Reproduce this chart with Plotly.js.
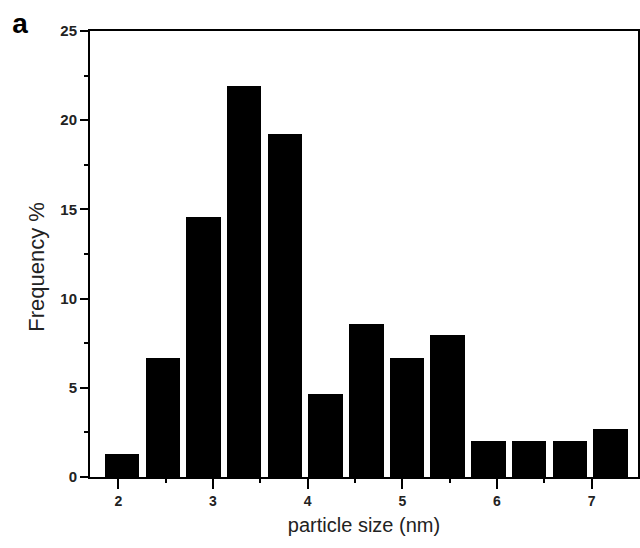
<!DOCTYPE html>
<html>
<head>
<meta charset="utf-8">
<script src="https://cdn.plot.ly/plotly-3.0.1.min.js"></script>
<style>html,body{margin:0;padding:0;background:#fff;}#chart{width:640px;height:548px;}</style>
</head>
<body>
<div id="chart"></div>
<script>
var binCenters = [2.04, 2.47, 2.90, 3.33, 3.76, 4.19, 4.62, 5.05, 5.48, 5.91, 6.34, 6.77, 7.20];
var frequency = [1.3, 6.65, 14.6, 21.9, 19.2, 4.63, 8.6, 6.65, 7.94, 2.03, 2.03, 2.03, 2.67];
var xTickVals = [2, 3, 4, 5, 6, 7];
var yTickVals = [0, 5, 10, 15, 20, 25];

var trace = {
  type: 'bar',
  x: binCenters,
  y: frequency,
  width: 0.365,
  marker: {color: '#000000', line: {width: 0}},
  hoverinfo: 'skip'
};

var FONT = '"Liberation Sans", Arial, sans-serif';

var layout = {
  width: 640, height: 548,
  margin: {l: 90, r: 2, t: 31, b: 71},
  paper_bgcolor: '#ffffff', plot_bgcolor: '#ffffff',
  showlegend: false,
  bargap: 0,
  font: {family: FONT, color: '#000'},
  title: {
    text: '<b>a</b>',
    font: {size: 28, color: '#000', family: FONT},
    xref: 'container', yref: 'container',
    x: 0.019, xanchor: 'left',
    y: 0.975, yanchor: 'top'
  },
  xaxis: {
    range: [1.701, 7.49],
    tickmode: 'array', tickvals: xTickVals,
    ticks: 'outside', ticklen: 10, tickwidth: 2, tickcolor: '#000',
    showline: true, linewidth: 2, linecolor: '#000', mirror: true,
    showgrid: false, zeroline: false,
    tickfont: {size: 14, color: '#222', family: FONT, weight: 'bold'},
    minor: {dtick: 0.5, tick0: 0, ticks: 'outside', ticklen: 4, tickwidth: 2, tickcolor: '#000', showgrid: false},
    title: {text: 'particle size (nm)', font: {size: 20, color: '#222'}, standoff: 10}
  },
  yaxis: {
    range: [0, 25],
    tickmode: 'array', tickvals: yTickVals,
    ticks: 'outside', ticklen: 8, tickwidth: 2, tickcolor: '#000',
    showline: true, linewidth: 2, linecolor: '#000', mirror: true,
    showgrid: false, zeroline: false,
    tickfont: {size: 15, color: '#222', family: FONT, weight: 'bold'},
    minor: {dtick: 2.5, tick0: 0, ticks: 'outside', ticklen: 4, tickwidth: 2, tickcolor: '#000', showgrid: false}
  },
  annotations: [{
    text: 'Frequency %',
    xref: 'paper', yref: 'paper',
    x: -0.097, y: 0.471,
    xanchor: 'center', yanchor: 'middle',
    textangle: -90, showarrow: false,
    font: {size: 22, color: '#222', family: FONT}
  }]
};

Plotly.newPlot('chart', [trace], layout, {displayModeBar: false, staticPlot: true});
</script>
</body>
</html>
